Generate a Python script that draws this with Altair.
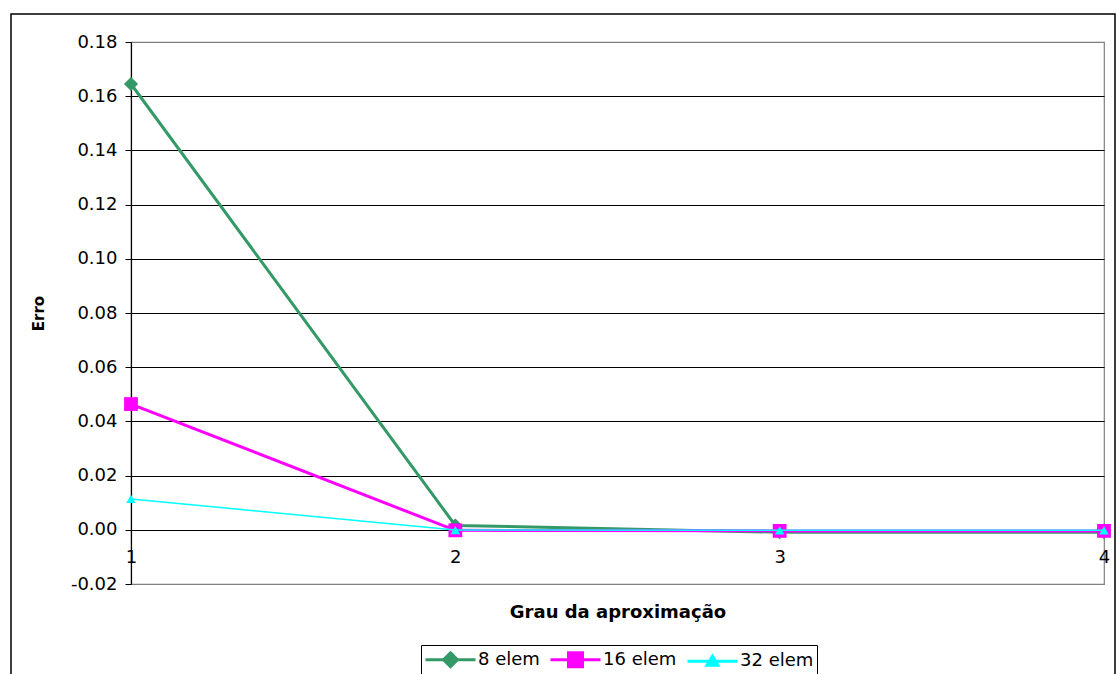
import altair as alt
import pandas as pd

# Error of the approximation by polynomial degree, for three mesh sizes
degree = [1, 2, 3, 4]
series_names = ["8 elem", "16 elem", "32 elem"]
err_8 = [0.1645, 0.0016, -0.0009, -0.0009]
err_16 = [0.0464, -0.0002, -0.0004, -0.0004]
err_32 = [0.0114, -0.0001, -0.0002, -0.0002]
y_ticks = [-0.02, 0.00, 0.02, 0.04, 0.06, 0.08, 0.10, 0.12, 0.14, 0.16, 0.18]

colors = ["#339966", "#FF00FF", "#00FFFF"]
shapes = ["diamond", "square", "triangle-up"]
line_widths = [3, 3, 1.5]
marker_sizes = [200, 190, 90]
# legend keys: a short line with the series marker on it
legend_shapes = [
    "M-2.5,0H2.5M0,-0.7L0.7,0L0,0.7L-0.7,0Z",
    "M-2.5,0H2.5M-0.7,-0.7H0.7V0.7H-0.7Z",
    "M-2.5,0H2.5M0,-0.5L0.55,0.4L-0.55,0.4Z",
]

rows = []
for name, vals in zip(series_names, [err_8, err_16, err_32]):
    for d, v in zip(degree, vals):
        rows.append({"grau": d, "erro": v, "serie": name})
df = pd.DataFrame(rows)

FONT = "DejaVu Sans"

x_enc = alt.X(
    "grau:Q",
    scale=alt.Scale(domain=[1, 4], nice=False, zero=False),
    axis=alt.Axis(
        values=degree, format="d", grid=False, domain=False, ticks=False,
        offset=-54, labelPadding=18, labelFont=FONT, labelFontSize=18,
        labelColor="black", labelFlush=False,
        title="Grau da aproximação", titleFont=FONT, titleFontSize=18,
        titleFontWeight="bold", titleColor="black", titleY=82,
        titleBaseline="middle",
    ),
)
y_enc = alt.Y(
    "erro:Q",
    scale=alt.Scale(domain=[-0.02, 0.18], nice=False, zero=False),
    axis=alt.Axis(
        values=y_ticks, labelExpr="replace(format(datum.value, '.2f'), '\u2212', '-')",
        grid=True,
        gridColor={"condition": {"test": "abs(datum.value - 0.18) < 1e-6 || abs(datum.value + 0.02) < 1e-6",
                                 "value": "#808080"}, "value": "black"},
        gridWidth=1, domainColor="black", domainWidth=1.2, tickColor="black",
        tickSize=6, labelPadding=8, labelFont=FONT, labelFontSize=18,
        labelColor="black",
        title="Erro", titleFont=FONT, titleFontSize=15, titleFontWeight="bold",
        titleColor="black", titleX=-93, titleY=271, titleAngle=-90,
        titleAlign="center", titleBaseline="middle",
    ),
)

base = alt.Chart(df)

# each series: its line, then its markers on top (later series drawn over earlier ones)
series_layers = []
for i, name in enumerate(series_names):
    sub = base.transform_filter(alt.datum.serie == name)
    line = sub.mark_line(color=colors[i], strokeWidth=line_widths[i]).encode(
        x=x_enc if i == 0 else "grau:Q",
        y=y_enc if i == 0 else "erro:Q",
        order=alt.Order("grau:Q"),
    )
    pts = sub.mark_point(
        filled=True, opacity=1, color=colors[i], shape=shapes[i], size=marker_sizes[i]
    ).encode(x="grau:Q", y="erro:Q")
    series_layers += [line, pts]

legend_def = alt.Legend(
    title=None, orient="none", legendX=290, legendY=603,
    direction="horizontal", columns=3, columnPadding=4,
    symbolSize=400, symbolOffset=15, labelOffset=16, symbolOpacity=1,
    labelFont=FONT, labelFontSize=18, labelColor="black",
    strokeColor="black", fillColor="white", padding=3,
)

# legend only: this layer draws no rows
legend_layer = base.transform_filter("false").mark_point(filled=True).encode(
    x="grau:Q",
    y="erro:Q",
    color=alt.Color("serie:N", scale=alt.Scale(domain=series_names, range=colors),
                    sort=series_names, legend=legend_def),
    stroke=alt.Stroke("serie:N", scale=alt.Scale(domain=series_names, range=colors),
                      sort=series_names, legend=legend_def),
    shape=alt.Shape("serie:N", scale=alt.Scale(domain=series_names, range=legend_shapes),
                    sort=series_names, legend=legend_def),
    strokeWidth=alt.StrokeWidth("serie:O", scale=alt.Scale(domain=series_names, range=line_widths),
                                sort=series_names, legend=legend_def),
)

# outer chart frame
frame = alt.Chart(pd.DataFrame({"k": [0]})).mark_rect(
    fill=None, stroke="black", strokeWidth=1.5
).encode(
    x=alt.value(-120), x2=alt.value(984), y=alt.value(-28), y2=alt.value(640)
)

chart = alt.layer(frame, *series_layers, legend_layer).properties(
    width=973, height=542,
    autosize=alt.AutoSizeParams(type="none"),
    padding={"left": 131, "top": 42, "right": 13, "bottom": 90},
).configure_view(stroke="#808080", strokeWidth=1.2)

chart.save("out.html", embed_options={"renderer": "svg", "actions": False})
